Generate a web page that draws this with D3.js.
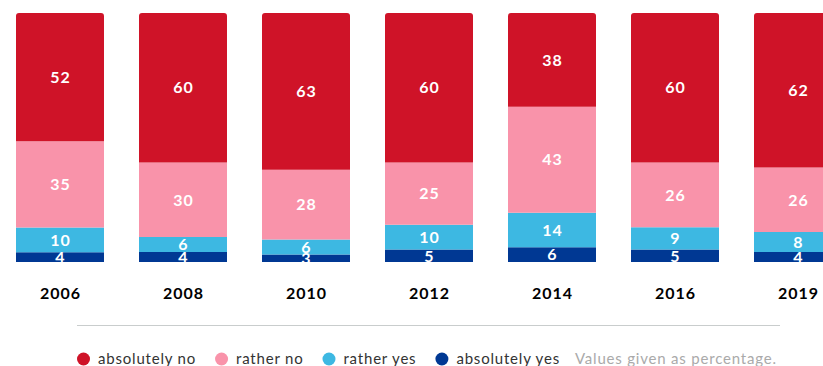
<!DOCTYPE html>
<html>
<head>
<meta charset="utf-8">
<script src="https://cdn.jsdelivr.net/npm/d3@7"></script>
<style>
  html, body { margin: 0; padding: 0; background: #fff; overflow: hidden; }
  svg { display: block; font-family: Lato, "Open Sans", sans-serif; }
</style>
</head>
<body>
<svg id="chart" width="823" height="366"></svg>
<script>
// Survey answers per year, in percent
const years = ["2006", "2008", "2010", "2012", "2014", "2016", "2019"];
const absolutelyNo  = [52, 60, 63, 60, 38, 60, 62];
const ratherNo      = [35, 30, 28, 25, 43, 26, 26];
const ratherYes     = [10, 6, 6, 10, 14, 9, 8];
const absolutelyYes = [4, 4, 3, 5, 6, 5, 4];

const seriesKeys   = ["absolutelyYes", "ratherYes", "ratherNo", "absolutelyNo"];
const seriesLabels = ["absolutely no", "rather no", "rather yes", "absolutely yes"];
const legendOrder  = ["absolutelyNo", "ratherNo", "ratherYes", "absolutelyYes"];
const note = "Values given as percentage.";

const colors = {
  absolutelyNo: "#cf1328",
  ratherNo: "#f993aa",
  ratherYes: "#3db8e2",
  absolutelyYes: "#003893"
};

const rows = years.map((y, i) => ({
  year: y,
  absolutelyNo: absolutelyNo[i],
  ratherNo: ratherNo[i],
  ratherYes: ratherYes[i],
  absolutelyYes: absolutelyYes[i]
}));

const svg = d3.select("#chart");

const x = d3.scaleBand()
  .domain(years)
  .range([16, 842])
  .paddingInner(0.2846)
  .paddingOuter(0);

const y = d3.scaleLinear().domain([0, 1]).range([262, 13]);

// Each column is stacked to its own total
const stacked = d3.stack().keys(seriesKeys).offset(d3.stackOffsetExpand)(rows);

const bw = x.bandwidth();
const r = 3;

// Path with rounded top corners for the top segment
function segPath(x0, y0, w, h, rounded) {
  if (!rounded) return `M${x0},${y0}h${w}v${h}h${-w}Z`;
  return `M${x0},${y0 + h}V${y0 + r}Q${x0},${y0} ${x0 + r},${y0}H${x0 + w - r}Q${x0 + w},${y0} ${x0 + w},${y0 + r}V${y0 + h}Z`;
}

const groups = svg.append("g").selectAll("g")
  .data(stacked)
  .join("g")
  .attr("fill", d => colors[d.key]);

groups.selectAll("path")
  .data(d => d.map(s => ({ key: d.key, s })))
  .join("path")
  .attr("d", d => {
    const x0 = x(d.s.data.year);
    const y0 = y(d.s[1]);
    const h = y(d.s[0]) - y(d.s[1]);
    return segPath(x0, y0, bw, h, d.key === "absolutelyNo");
  });

// Value labels
const labels = svg.append("g")
  .attr("fill", "#fff")
  .attr("font-weight", 700)
  .attr("font-size", 16)
  .attr("letter-spacing", 1)
  .attr("text-anchor", "middle");

stacked.forEach(layer => {
  labels.selectAll(null)
    .data(layer)
    .join("text")
    .attr("x", d => x(d.data.year) + bw / 2 + 0.5)
    .attr("y", d => (y(d[0]) + y(d[1])) / 2)
    .attr("dy", "0.36em")
    .text(d => d.data[layer.key]);
});

// Year axis
const axis = svg.append("g")
  .attr("transform", "translate(0,299)")
  .call(d3.axisBottom(x).tickSize(0).tickPadding(0));
axis.select(".domain").remove();
axis.selectAll("text")
  .attr("dy", 0)
  .attr("y", 0)
  .attr("x", 0.5)
  .attr("fill", "#000")
  .attr("font-family", "Lato, sans-serif")
  .attr("font-weight", 700)
  .attr("font-size", 16)
  .attr("letter-spacing", 1);

// Separator
svg.append("line")
  .attr("x1", 77).attr("x2", 780)
  .attr("y1", 325.5).attr("y2", 325.5)
  .attr("stroke", "#c9cdcd")
  .attr("stroke-width", 1);

// Legend
const legend = svg.append("g").attr("font-size", 15).attr("letter-spacing", 0.8);
let lx = 77;
const ly = 359;
legendOrder.forEach((k, i) => {
  legend.append("circle")
    .attr("cx", lx + 6.5).attr("cy", ly)
    .attr("r", 6.5)
    .attr("fill", colors[k]);
  const t = legend.append("text")
    .attr("x", lx + 21)
    .attr("y", ly + 5)
    .attr("fill", "#333")
    .text(seriesLabels[i]);
  lx = lx + 21 + t.node().getComputedTextLength() + 19;
});
legend.append("text")
  .attr("x", lx - 4)
  .attr("y", ly + 5)
  .attr("fill", "#aaa")
  .text(note);
</script>
</body>
</html>
